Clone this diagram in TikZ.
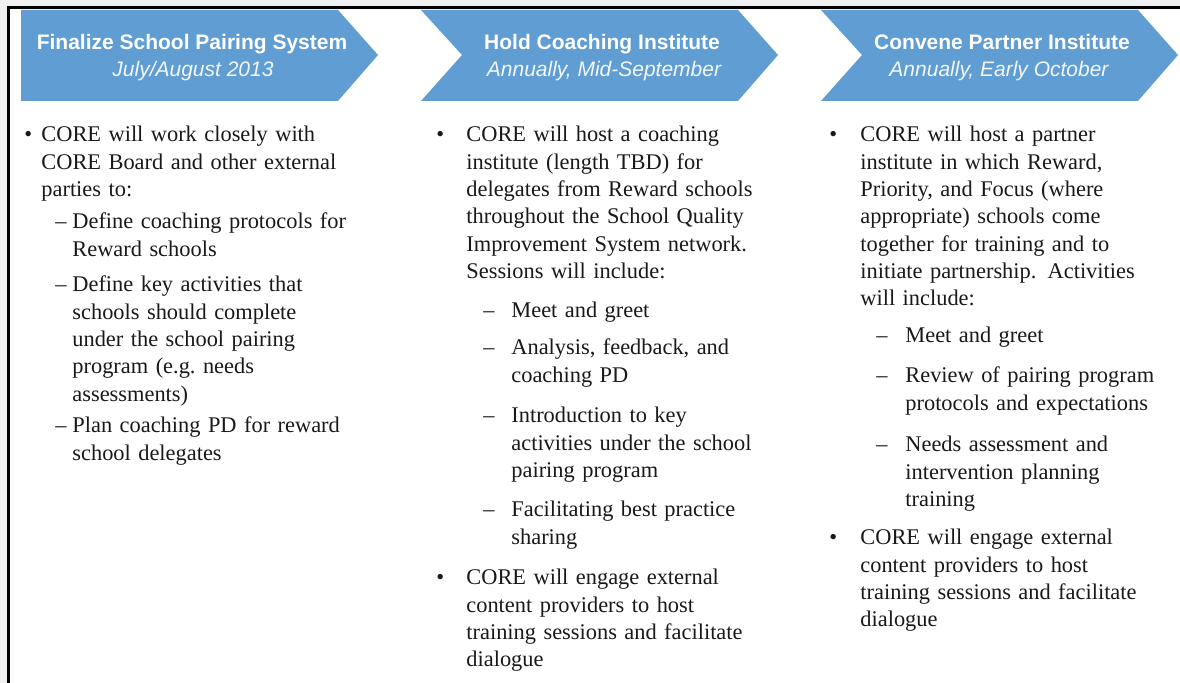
\documentclass[tikz,border=0pt]{standalone}
\usepackage{fontspec}
\setmainfont{Liberation Serif}
\setsansfont{Liberation Sans}
\definecolor{chevblue}{RGB}{95,157,211}
\definecolor{framegray}{RGB}{240,240,240}
\definecolor{inkblack}{RGB}{25,25,25}
\newcommand{\bodysize}{\fontsize{11.2}{13.65}\selectfont}

\begin{document}
\begin{tikzpicture}[x=0.5pt,y=-0.5pt,
    chevron/.style ={fill=chevblue},
    headline/.style ={anchor=base, inner sep=0, text=white, font=\sffamily\bfseries\fontsize{10.5}{12}\selectfont},
    dateline/.style ={anchor=base, inner sep=0, text=white!92!chevblue, font=\sffamily\itshape\fontsize{10.5}{12}\selectfont},
    bodytext/.style ={anchor=base west, inner sep=0, text width=170pt, align=left, text=inkblack, font=\bodysize},
    bulletmark/.style ={anchor=base west, inner sep=0, text=inkblack, font=\bodysize},
    dashmark/.style ={anchor=base west, inner sep=0, text=inkblack, font=\bodysize}]
   \useasboundingbox (0,0) rectangle (1180,683);
   \fill[framegray] (0,0) rectangle (1180,683);
   \fill[white] (9,8) rectangle (1180,683);
   \draw[line width=1.4pt] (8.5,683) -- (8.5,7.5) -- (1180,7.5);

   % chevrons
   \fill[chevron] (21,10) -- (338,10) -- (378,55) -- (338,101) -- (21,101) -- cycle;
   \fill[chevron] (421,10) -- (738,10) -- (778,55) -- (738,101) -- (421,101) -- (462,55) -- cycle;
   \fill[chevron] (821,10) -- (1138,10) -- (1178,55) -- (1138,101) -- (821,101) -- (862,55) -- cycle;

   \node[headline] (h1) at (192,50) {Finalize School Pairing System};
   \node[dateline] (d1) at (193,77) {July/August 2013};
   \node[headline] (h2) at (602,50) {Hold Coaching Institute};
   \node[dateline] (d2) at (604,77) {Annually, Mid-September};
   \node[headline] (h3) at (1002,50) {Convene Partner Institute};
   \node[dateline] (d3) at (999,77) {Annually, Early October};

   % column 1
   \node[bulletmark] (b1) at (24,142) {\textbullet};
   \node[bodytext] (t1) at (41,142) {CORE will work closely with\\CORE Board and other external\\parties to:};
   \node[dashmark] (m11) at (55,229) {--};
   \node[bodytext] (s11) at (72,229) {Define coaching protocols for\\Reward schools};
   \node[dashmark] (m12) at (55,292) {--};
   \node[bodytext] (s12) at (72,292) {Define key activities that\\schools should complete\\under the school pairing\\program (e.g.\ needs\\assessments)};
   \node[dashmark] (m13) at (55,433) {--};
   \node[bodytext] (s13) at (72,433) {Plan coaching PD for reward\\school delegates};

   % column 2
   \node[bulletmark] (b2) at (436,142) {\textbullet};
   \node[bodytext] (t2) at (466,142) {CORE will host a coaching\\institute (length TBD) for\\delegates from Reward schools\\throughout the School Quality\\Improvement System network.\\Sessions will include:};
   \node[dashmark] (m21) at (483,318) {--};
   \node[bodytext] (s21) at (511,318) {Meet and greet};
   \node[dashmark] (m22) at (483,355) {--};
   \node[bodytext] (s22) at (511,355) {Analysis, feedback, and\\coaching PD};
   \node[dashmark] (m23) at (483,423) {--};
   \node[bodytext] (s23) at (511,423) {Introduction to key\\activities under the school\\pairing program};
   \node[dashmark] (m24) at (483,517) {--};
   \node[bodytext] (s24) at (511,517) {Facilitating best practice\\sharing};
   \node[bulletmark] (b22) at (436,585) {\textbullet};
   \node[bodytext] (t22) at (466,585) {CORE will engage external\\content providers to host\\training sessions and facilitate\\dialogue};

   % column 3
   \node[bulletmark] (b3) at (829,142) {\textbullet};
   \node[bodytext] (t3) at (860,142) {CORE will host a partner\\institute in which Reward,\\Priority, and Focus (where\\appropriate) schools come\\together for training and to\\initiate partnership. Activities\\will include:};
   \node[dashmark] (m31) at (876,343) {--};
   \node[bodytext] (s31) at (905,343) {Meet and greet};
   \node[dashmark] (m32) at (876,383) {--};
   \node[bodytext] (s32) at (905,383) {Review of pairing program\\protocols and expectations};
   \node[dashmark] (m33) at (876,452) {--};
   \node[bodytext] (s33) at (905,452) {Needs assessment and\\intervention planning\\training};
   \node[bulletmark] (b32) at (829,545) {\textbullet};
   \node[bodytext] (t32) at (860,545) {CORE will engage external\\content providers to host\\training sessions and facilitate\\dialogue};

 \end{tikzpicture}
\end{document}
